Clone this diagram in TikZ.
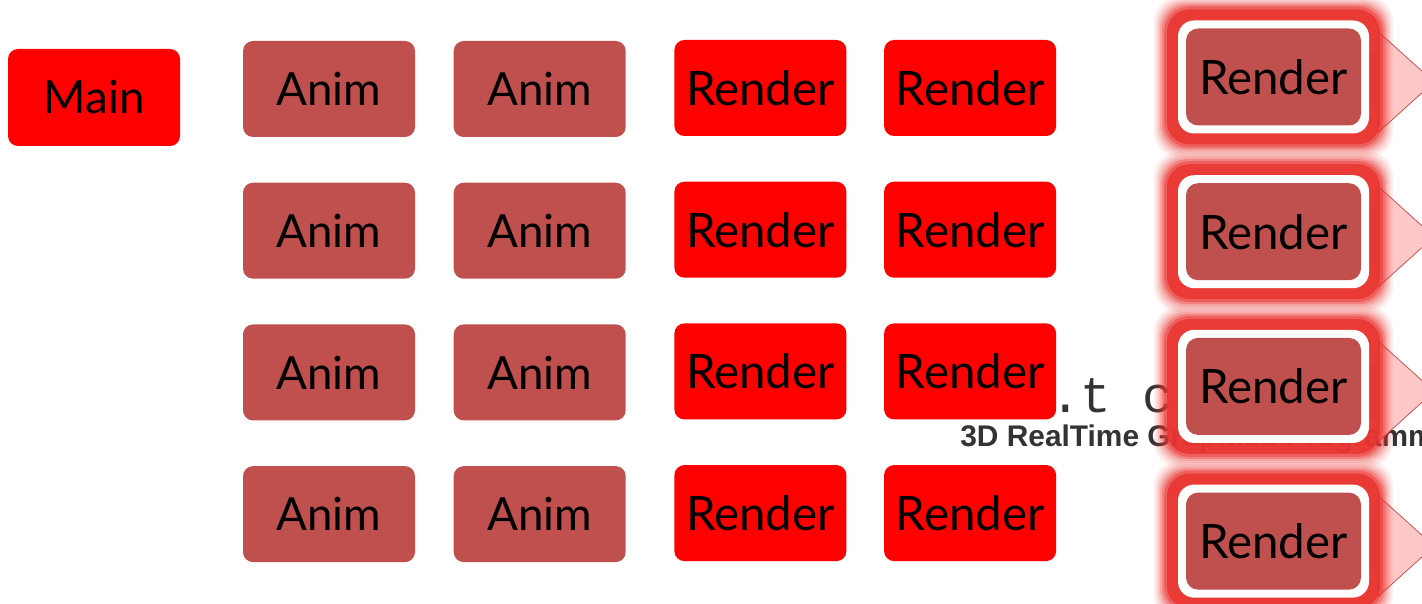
\documentclass[tikz,border=0pt]{standalone}
\usepackage{fontspec}
\setmainfont{Lato}
\newfontfamily\wmfont{Liberation Sans}
\newfontfamily\wmmono{Liberation Mono}
\usetikzlibrary{positioning,backgrounds}
\definecolor{animred}{HTML}{C0504D}
\definecolor{glowred}{HTML}{E83430}
\definecolor{arrowpink}{HTML}{FFC8C8}
\definecolor{arrowedge}{HTML}{CC4444}

\begin{document}
\begin{tikzpicture}[
  node distance=0.9cm and 0.76cm,
  box/.style={rounded corners=0.2cm, minimum width=3.44cm, minimum height=1.92cm,
    inner sep=0pt, font=\fontsize{26}{30}\selectfont, text=black},
  mainbox/.style={box, fill=red, minimum height=1.94cm},
  anim/.style={box, fill=animred},
  render/.style={box, fill=red, font=\fontsize{27}{30}\selectfont},
  busy/.style={box, fill=animred, minimum width=3.5cm, minimum height=1.94cm,
    rounded corners=0.24cm, font=\fontsize{27}{30}\selectfont},
  wmark/.style={inner sep=0pt, anchor=base west, text=black!80}
]
\clip (0,0) rectangle (28.44,12.06);

% main thread
\node[mainbox] (main) at (1.88,10.11) {Main};

% anim jobs
\node[anim] (a11) at (6.58,10.28) {Anim};
\node[anim, right=of a11] (a12) {Anim};
\node[anim, below=of a11] (a21) {Anim};
\node[anim, right=of a21] (a22) {Anim};
\node[anim, below=of a21] (a31) {Anim};
\node[anim, right=of a31] (a32) {Anim};
\node[anim, below=of a31] (a41) {Anim};
\node[anim, right=of a41] (a42) {Anim};

% render jobs
\node[render, right=0.96cm of a12, yshift=0.02cm] (r11) {Render};
\node[render, right=0.74cm of r11] (r12) {Render};
\node[render, right=0.96cm of a22, yshift=0.02cm] (r21) {Render};
\node[render, right=0.74cm of r21] (r22) {Render};
\node[render, right=0.96cm of a32, yshift=0.02cm] (r31) {Render};
\node[render, right=0.74cm of r31] (r32) {Render};
\node[render, right=0.96cm of a42, yshift=0.02cm] (r41) {Render};
\node[render, right=0.74cm of r41] (r42) {Render};

% running render jobs
\node[busy] (b1) at (25.47,10.52) {Render};
\node[busy, below=1.14cm of b1] (b2) {Render};
\node[busy, below=1.14cm of b2] (b3) {Render};
\node[busy, below=1.14cm of b3] (b4) {Render};

\begin{scope}[on background layer]
  \node[wmark, font=\wmmono\fontsize{29}{30}\selectfont] (wm1) at (21.0,3.82) {.t c};
  \node[wmark, font=\wmfont\bfseries\fontsize{17}{19}\selectfont] (wm2) at (19.2,3.14)
    {3D RealTime Graphics Programming};
  \foreach \n in {b1,b2,b3,b4}{
    \filldraw[fill=arrowpink, draw=arrowedge, shift={(\n.center)}]
      (1.9,0.43) -- (2.09,0.43) -- (2.09,0.91) -- (3.21,-0.1) -- (2.09,-1.11)
      -- (2.09,-0.63) -- (1.9,-0.63) -- cycle;
    \foreach \g/\o in {0.64/0.08,0.6/0.1,0.56/0.14,0.52/0.2,0.48/0.3,0.44/0.45}
      \fill[glowred, opacity=\o, rounded corners=0.5cm, shift={(\n.center)}]
        (-1.75-\g,-0.97-\g) rectangle (1.75+\g,0.97+\g);
    \fill[glowred, opacity=0.85, rounded corners=0.45cm, shift={(\n.center)}]
      (-2.13,-1.35) rectangle (2.13,1.35);
    \fill[white, rounded corners=0.32cm, shift={(\n.center)}]
      (-1.91,-1.13) rectangle (1.91,1.13);
  }
\end{scope}
\end{tikzpicture}
\end{document}
